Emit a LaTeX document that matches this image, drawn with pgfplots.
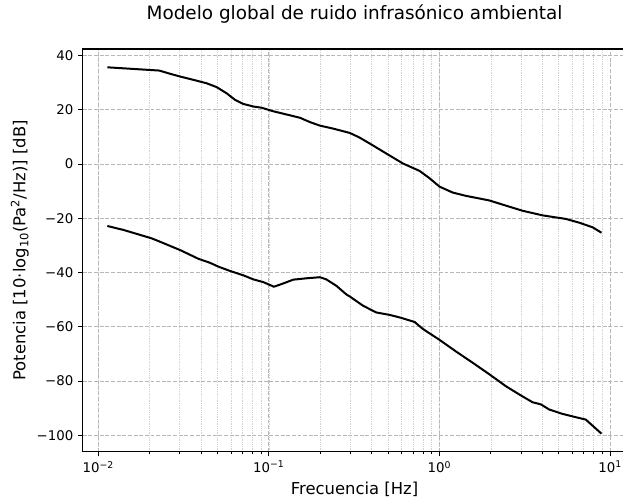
\documentclass[border=0pt]{standalone}
\usepackage{fontspec}
\setmainfont{DejaVu Sans}
\usepackage{pgfplots}
\pgfplotsset{compat=1.18}
\definecolor{gridmaj}{HTML}{B8B8B8}
\definecolor{gridmin}{HTML}{D2D2D2}
\begin{document}
\begin{tikzpicture}
\begin{axis}[
  scale only axis, width=407.8pt, height=302pt,
  xmode=log, xmin=0.0081, xmax=12.47, ymin=-106.05, ymax=42.45,
  axis line style={line width=0.8pt},
  tick pos=left, tick align=outside,
  major tick length=3.5pt, minor tick length=2pt,
  every tick/.style={black, line width=0.8pt},
  every minor tick/.append style={black, line width=0.6pt},
  xtick={0.01,0.1,1,10},
  xticklabels={10\textsuperscript{−2},10\textsuperscript{−1},10\textsuperscript{0},10\textsuperscript{1}},
  ytick={-100,-80,-60,-40,-20,0,20,40},
  yticklabels={−100,−80,−60,−40,−20,0,20,40},
  xmajorgrids, xminorgrids, ymajorgrids,
  major grid style={color=gridmaj, line width=0.8pt, dash pattern=on 2.96pt off 1.28pt},
  minor grid style={color=gridmin, line width=0.5pt, dash pattern=on 0.5pt off 0.83pt},
  ticklabel style={font=\fontsize{10}{12}\selectfont},
  xlabel={Frecuencia [Hz]},
  ylabel={Potencia [10·log\textsubscript{10}(Pa\textsuperscript{2}/Hz)] [dB]},
  label style={font=\fontsize{12.3}{14}\selectfont},
  xlabel style={at={(axis description cs:0.5,-0.105)}, anchor=base},
  ylabel style={at={(axis description cs:-0.1055,0.5)}, anchor=base},
  title={Modelo global de ruido infrasónico ambiental},
  title style={font=\fontsize{13.8}{16}\selectfont, at={(axis description cs:0.5,1)}, anchor=base, yshift=15.75pt},
]
\addplot[black, line width=1.5pt] coordinates {
(0.0113,35.7) (0.0228,34.5) (0.0264,33.3) (0.0302,32.3) (0.036,31.1)
(0.0432,29.8) (0.0494,28.4) (0.0566,26.1) (0.0633,23.7) (0.0708,22.2)
(0.081,21.25) (0.0906,20.8) (0.106,19.5) (0.127,18.3) (0.152,17.1)
(0.174,15.5) (0.199,14.2) (0.238,13.1) (0.298,11.5) (0.340,9.8)
(0.407,6.9) (0.488,3.9) (0.610,0.25) (0.764,-2.5) (0.874,-5.2)
(1.0,-8.3) (1.197,-10.5) (1.43,-11.7) (1.96,-13.4) (2.45,-15.3)
(3.07,-17.2) (4.02,-18.9) (5.5,-20.2) (6.6,-21.6) (7.9,-23.3) (8.9,-25.3)
};
\addplot[black, line width=1.5pt] coordinates {
(0.0113,-22.8) (0.0141,-24.3) (0.0176,-26.1) (0.0206,-27.4) (0.0236,-28.9)
(0.0302,-31.7) (0.0386,-34.9) (0.0452,-36.4) (0.0506,-37.8) (0.0592,-39.4)
(0.0708,-41.0) (0.081,-42.5) (0.0927,-43.5) (0.107,-45.2) (0.119,-44.2)
(0.139,-42.6) (0.166,-42.1) (0.199,-41.7) (0.217,-42.5) (0.249,-44.9)
(0.285,-48.1) (0.298,-48.8) (0.356,-52.2) (0.426,-54.7) (0.511,-55.6)
(0.597,-56.7) (0.714,-58.2) (0.80,-60.8) (1.0,-64.8) (1.25,-69.1)
(1.57,-73.3) (1.96,-77.5) (2.45,-81.9) (3.0,-85.3) (3.51,-87.8)
(3.93,-88.6) (4.40,-90.5) (5.26,-92.1) (6.0,-93.0) (7.2,-94.2) (8.9,-99.4)
};
\coordinate (SW) at (rel axis cs:0,0);
\end{axis}
\pgfresetboundingbox
\path[use as bounding box] ([shift={(-62.0pt,-34.0pt)}]SW) rectangle ([shift={(405.2pt,338.75pt)}]SW);
\end{tikzpicture}
\end{document}
